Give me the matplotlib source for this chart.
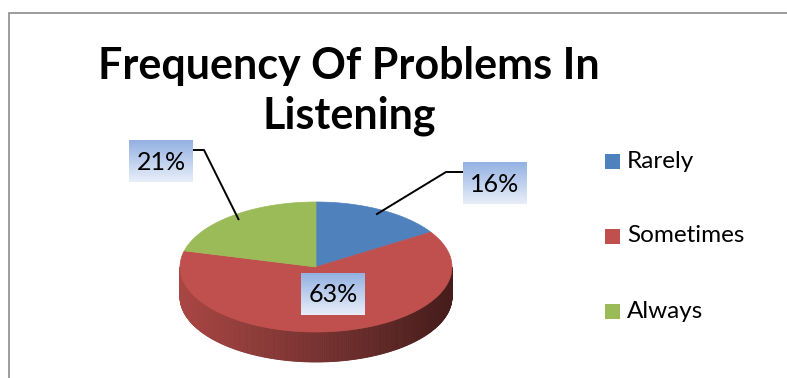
"""
3-D style pie of how often listening problems occur, with legend and callouts.
"""

import numpy as np
import matplotlib

matplotlib.use("Agg")
import matplotlib.pyplot as plt
from matplotlib.patches import Polygon, Rectangle

# data
categories = ["Rarely", "Sometimes", "Always"]
shares = [16, 63, 21]
colors = ["#4f81bd", "#c0504d", "#9bbb59"]
title = "Frequency Of Problems In\nListening"

# layout in pixels (y grows downward)
W, H = 787, 378
cx, cy = 316, 267          # centre of the top face
rx, ry = 136, 65           # ellipse radii
depth = 30                 # thickness of the pie
label_boxes = {            # label box centre for each slice
    "Rarely": (495, 183),
    "Sometimes": (333, 294),
    "Always": (161, 161),
}
box_w, box_h = 64, 42

plt.rcParams["font.family"] = ["Lato", "DejaVu Sans"]

fig = plt.figure(figsize=(W / 100, H / 100), dpi=100)
ax = fig.add_axes([0, 0, 1, 1])
ax.set_xlim(0, W)
ax.set_ylim(H, 0)
ax.axis("off")

# chart border (runs off the right and bottom edges)
ax.plot([8.5, 8.5, W + 5], [H + 5, 12.5, 12.5], color="#8c8c8c", lw=1.2,
        solid_joinstyle="miter")


def pt(t, r=1.0, dy=0.0):
    return cx + r * rx * np.cos(t), cy - r * ry * np.sin(t) + dy


def shade(c, f):
    rgb = np.array(matplotlib.colors.to_rgb(c))
    return tuple(np.clip(rgb * f, 0, 1))


fracs = np.array(shares, dtype=float) / sum(shares)
starts = np.pi / 2 - 2 * np.pi * np.concatenate([[0], np.cumsum(fracs)[:-1]])
ends = starts - 2 * np.pi * fracs

# side wall on the front half
for s, e, c in zip(starts, ends, colors):
    ts = np.linspace(s, e, 400)
    for t1, t2 in zip(ts[:-1], ts[1:]):
        tm = 0.5 * (t1 + t2)
        if np.sin(tm) > 0:
            continue
        x1, y1 = pt(t1)
        x2, y2 = pt(t2)
        frac = ((x1 + x2) / 2 - (cx - rx)) / (2 * rx)
        f = 0.88 - 0.52 * frac
        col = shade(c, f)
        ax.add_patch(Polygon([(x1, y1), (x2, y2), (x2, y2 + depth), (x1, y1 + depth)],
                             closed=True, facecolor=col, edgecolor=col, lw=0.6))

# top face
for s, e, c in zip(starts, ends, colors):
    ts = np.linspace(s, e, 200)
    xs, ys = pt(ts)
    verts = [(cx, cy)] + list(zip(xs, ys))
    ax.add_patch(Polygon(verts, closed=True, facecolor=c, edgecolor=c, lw=0.5))

# gradient for label boxes
grad = np.linspace(0, 1, 64)[:, None, None]
top_c = np.array(matplotlib.colors.to_rgb("#93b1e2"))
bot_c = np.array(matplotlib.colors.to_rgb("#e8eef9"))
grad_img = top_c * (1 - grad) + bot_c * grad

for name, share, s, e in zip(categories, shares, starts, ends):
    bx, by = label_boxes[name]
    x0, y0 = bx - box_w / 2, by - box_h / 2
    mid = 0.5 * (s + e)
    if name != "Sometimes":
        ax_, ay_ = pt(mid, 0.93)
        ly = y0 + 10
        if bx > cx:
            edge = x0
            elbow = edge - 17
        else:
            edge = x0 + box_w
            elbow = edge + 11
        ax.plot([ax_, elbow, edge], [ay_, ly, ly], color="black", lw=1.4)
    ax.imshow(grad_img, extent=(x0, x0 + box_w, y0 + box_h, y0),
              aspect="auto", interpolation="bilinear", zorder=3)
    ax.text(bx, by + 1, f"{share}%", ha="center", va="center",
            fontsize=18, color="black", zorder=4)

ax.set_xlim(0, W)
ax.set_ylim(H, 0)

# legend
legend_y = [161, 236, 311]
for name, c, ly in zip(categories, colors, legend_y):
    ax.add_patch(Rectangle((605, ly - 7.5), 15, 15, facecolor=c, edgecolor="none"))
    ax.text(627, ly, name, ha="left", va="center", fontsize=17.5, color="black")

ax.text(349, 91, title, ha="center", va="center", fontsize=31,
        fontweight="bold", color="black", linespacing=1.29)

fig.savefig("out.png", dpi=100)
